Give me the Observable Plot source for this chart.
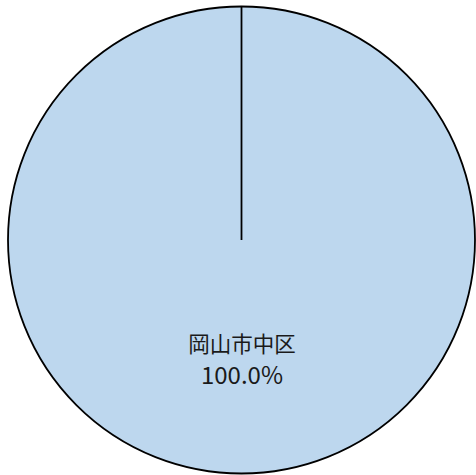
<!DOCTYPE html>
<html>
<head>
<meta charset="utf-8">
<script src="https://cdn.jsdelivr.net/npm/d3@7"></script>
<script src="https://cdn.jsdelivr.net/npm/@observablehq/plot@0.6"></script>
<style>
  html, body { margin: 0; padding: 0; background: #fff; }
  svg { display: block; }
</style>
</head>
<body>
<div id="chart"></div>
<script>
const categories = ["岡山市中区"];
const values = [100];
const percentLabels = ["100.0%"];

const W = 476, H = 475;
const cx = 241.5, cy = 240, R = 233.5;

const pie = d3.pie().sort(null).value(d => d.value);
const arcs = pie(categories.map((c, i) => ({category: c, value: values[i], pct: percentLabels[i]})));

const labelR = 0.51;
const labels = arcs.map(a => {
  const mid = (a.startAngle + a.endAngle) / 2;
  return {x: labelR * Math.sin(mid), y: labelR * Math.cos(mid), name: a.data.category, pct: a.data.pct};
});

const pieMark = (index, scales, values_, dimensions, context) => {
  const x = scales.x, y = scales.y;
  const ox = x(0), oy = y(0);
  const r = Math.abs(x(1) - x(0));
  const g = d3.create("svg:g");
  const arc = d3.arc().innerRadius(0).outerRadius(r);
  for (const a of arcs) {
    g.append("path")
      .attr("transform", `translate(${ox},${oy})`)
      .attr("d", arc(a))
      .attr("fill", "#bdd7ee")
      .attr("stroke", "#000")
      .attr("stroke-width", 1.8);
    g.append("line")
      .attr("x1", ox).attr("y1", oy)
      .attr("x2", ox + r * Math.sin(a.startAngle))
      .attr("y2", oy - r * Math.cos(a.startAngle))
      .attr("stroke", "#000")
      .attr("stroke-width", 1.8);
  }
  return g.node();
};

const chart = Plot.plot({
  width: W,
  height: H,
  margin: 0,
  x: {domain: [-1, 1], range: [cx - R, cx + R], axis: null},
  y: {domain: [-1, 1], range: [cy + R, cy - R], axis: null},
  style: {fontFamily: "'Noto Sans CJK JP', 'Noto Sans', sans-serif", background: "#fff"},
  marks: [
    pieMark,
    Plot.text(labels, {x: "x", y: "y", text: "name", dy: -14, fontSize: 21.5, fill: "#1a1a1a"}),
    Plot.text(labels, {x: "x", y: "y", text: "pct", dy: 16.5, fontSize: 24, fill: "#1a1a1a"})
  ]
});
document.getElementById("chart").append(chart);
</script>
</body>
</html>
